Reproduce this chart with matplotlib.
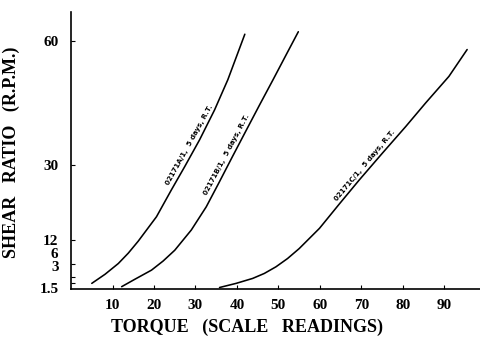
import numpy as np
import matplotlib
matplotlib.use('Agg')
import matplotlib.pyplot as plt
from matplotlib.transforms import ScaledTranslation

# ═══ Data ══════════════════════════════════════════════════════════════

torque_a = [5.0, 8.2, 11.4, 13.8, 16.2, 20.6, 24.2, 27.4, 31.0, 34.6, 37.8, 41.9]
shear_a = [1.4, 3.6, 6.2, 8.7, 11.6, 17.5, 24.0, 29.6, 36.1, 43.3, 50.6, 61.6]

torque_b = [12.2, 15.4, 19.4, 22.2, 25.0, 29.0, 32.6, 35.6, 38.9, 42.3, 45.5, 48.7, 51.9, 54.8]
shear_b = [0.6, 2.4, 4.6, 6.8, 9.4, 14.3, 19.9, 25.6, 32.0, 38.5, 44.6, 50.6, 56.7, 62.2]

torque_c = [35.8, 39.8, 43.8, 46.6, 49.4, 52.2, 55.0, 59.9, 64.7, 69.5, 75.1, 80.7, 85.5, 91.1, 95.5]
shear_c = [0.4, 1.4, 2.6, 3.8, 5.4, 7.4, 9.8, 14.7, 20.6, 26.4, 32.9, 39.3, 45.0, 51.4, 57.9]

labels = ['02171A/1,  5 days, R.T.', '02171B/1,  5 days, R.T.', '02171C/1,  5 days, R.T.']

x_ticks = [10, 20, 30, 40, 50, 60, 70, 80, 90]
y_ticks = [1.5, 3, 6, 12, 30, 60]
y_tick_labels = ['1.5', '3', '6', '12', '30', '60']

# ═══ Figure ════════════════════════════════════════════════════════════

serif = ['Liberation Serif', 'DejaVu Serif']
plt.rcParams['font.family'] = serif

fig = plt.figure(figsize=(4.8, 3.39), dpi=100)
ax = fig.add_axes([0.148, 0.147, 0.852, 0.818])

for t, s in [(torque_a, shear_a), (torque_b, shear_b), (torque_c, shear_c)]:
    ax.plot(t, s, color='black', lw=1.15, solid_capstyle='round', solid_joinstyle='round')

# ─── curve labels, written along the lines
lab_pos = [(28.6, 34.8, 61), (37.6, 32.6, 62), (70.8, 29.8, 50)]
for lab, (x, y, rot) in zip(labels, lab_pos):
    ax.text(x, y, lab, rotation=rot, fontsize=5, fontweight='bold',
            family='DejaVu Sans', ha='center', va='center', rotation_mode='anchor')

ax.set_xlim(0, 98.6)
ax.set_ylim(0, 67)

ax.set_xticks(x_ticks)
ax.set_yticks(y_ticks)
ax.set_yticklabels(y_tick_labels)
ax.tick_params(direction='in', length=3, width=0.8, labelsize=11)
ax.tick_params(axis='x', pad=7)
ax.tick_params(axis='y', pad=9)
for lbl in ax.get_xticklabels() + ax.get_yticklabels():
    lbl.set_fontweight('bold')

# the crowded low labels are stacked apart (offsets in pixels)
shifts = {'1.5': -5, '3': 11, '6': 11}
for lbl in ax.get_yticklabels():
    dy = shifts.get(lbl.get_text(), 0)
    if dy:
        lbl.set_transform(lbl.get_transform() + ScaledTranslation(0, dy / 100, fig.dpi_scale_trans))

ax.spines['top'].set_visible(False)
ax.spines['right'].set_visible(False)
ax.spines['left'].set_linewidth(1.2)
ax.spines['bottom'].set_linewidth(1.2)

ax.set_xlabel('TORQUE   (SCALE   READINGS)', fontsize=13, fontweight='bold')
ax.xaxis.set_label_coords(0.43, -0.107)
ax.set_ylabel('SHEAR   RATIO   (R.P.M.)', fontsize=13, fontweight='bold')
ax.yaxis.set_label_coords(-0.125, 0.495)

fig.savefig('out.png', dpi=100)
